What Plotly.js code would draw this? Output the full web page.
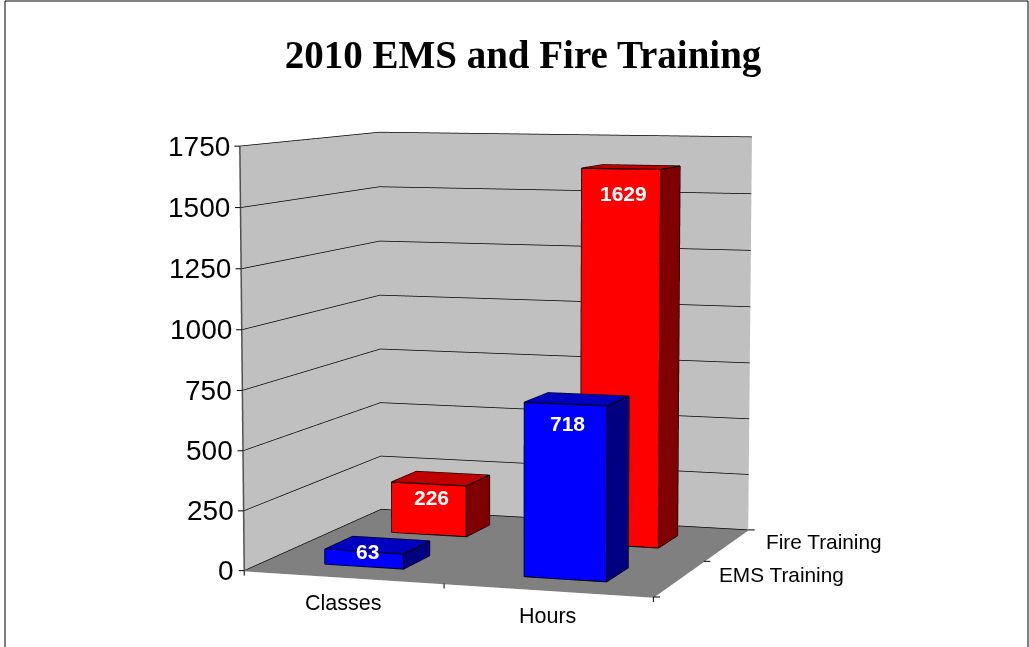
<!DOCTYPE html>
<html><head><meta charset="utf-8">
<script src="https://cdn.plot.ly/plotly-3.0.1.min.js"></script>
<style>html,body{margin:0;padding:0;background:#fff;overflow:hidden;width:1029px;height:647px}</style></head>
<body><div id="chart" style="position:absolute"></div>
<script>
const categories = ['Classes','Hours'];
const seriesNames = ['EMS Training','Fire Training'];
const emsValues = [63,718];
const fireValues = [226,1629];
const zTicks = [0,250,500,750,1000,1250,1500,1750];
const floorTicks = [-0.5,0.5,1.5];
const blueFaces = {front:'#0000ff',top:'#0000c0',side:'#000080'};
const redFaces = {front:'#ff0000',top:'#c00000',side:'#800000'};
const barHalf = 0.2;
const sans = 'Liberation Sans, Arial, sans-serif';
// The 3D scene is laid out larger than the window so the camera can stand far back
const W=3000,H=2380,centerX=506,centerY=347;
const offX=centerX-W/2,offY=centerY-H/2;
const chart=document.getElementById('chart');
chart.style.left=offX+'px';chart.style.top=offY+'px';chart.style.width=W+'px';chart.style.height=H+'px';
const px=v=>(v-offX)/W, py=v=>1-(v-offY)/H;

function box(cx, cy, h, faces){
  const x0=cx-barHalf,x1=cx+barHalf,y0=cy-barHalf,y1=cy+barHalf;
  const fc=[faces.front,faces.front,faces.top,faces.top,faces.front,faces.front,faces.side,faces.side,faces.top,faces.top,faces.side,faces.side];
  return {type:'mesh3d',
    x:[x0,x1,x1,x0,x0,x1,x1,x0],
    y:[y0,y0,y1,y1,y0,y0,y1,y1],
    z:[0,0,0,0,h,h,h,h],
    i:[0,0,4,4,0,0,1,1,2,2,3,3],
    j:[1,2,5,6,1,5,2,6,3,7,0,4],
    k:[2,3,6,7,5,4,6,5,7,6,4,7],
    facecolor:fc,flatshading:true,
    lighting:{ambient:1,diffuse:0,specular:0,roughness:1,fresnel:0},
    hoverinfo:'skip',showscale:false};
}
function edges(cx, cy, h){
  const x0=cx-barHalf,x1=cx+barHalf,y0=cy-barHalf,y1=cy+barHalf;
  const xs=[x0,x1,x1,x0,x0,x0,x1,x1,x0,x0,null,x1,x1,null,x1,x1,null,x0,x0];
  const ys=[y0,y0,y1,y1,y0,y0,y0,y1,y1,y0,null,y0,y0,null,y1,y1,null,y1,y1];
  const zs=[0,0,0,0,0,h,h,h,h,h,null,0,h,null,0,h,null,0,h];
  return {type:'scatter3d',mode:'lines',x:xs,y:ys,z:zs,line:{color:'#000',width:2.5},hoverinfo:'skip',showlegend:false,connectgaps:false};
}
const traces=[];
categories.forEach((c,i)=>{
  traces.push(box(i,1,fireValues[i],redFaces));
  traces.push(edges(i,1,fireValues[i]));
  traces.push(box(i,0,emsValues[i],blueFaces));
  traces.push(edges(i,0,emsValues[i]));
});
const annotations=[];
function note(x,y,z,text,font,extra){annotations.push(Object.assign({x,y,z,text,showarrow:false,font},extra||{}));}
function tick(x,y,z,ax,ay){annotations.push({x,y,z,text:' ',showarrow:true,arrowhead:0,arrowwidth:1,arrowcolor:'#000',standoff:0,ax,ay,font:{size:1}});}
const labelFont={family:sans,size:21,color:'#fff'};
const emsShift=[{xshift:4,yshift:0},{xshift:2,yshift:-19}];
const fireShift=[{xshift:3,yshift:-14},{xshift:2,yshift:-25}];
categories.forEach((c,i)=>{
  note(i,-barHalf,emsValues[i],'<b>'+emsValues[i]+'</b>',labelFont,emsShift[i]);
  note(i,1-barHalf,fireValues[i],'<b>'+fireValues[i]+'</b>',labelFont,fireShift[i]);
  note(i,-0.5,0,c,{family:sans,size:21.5,color:'#000'},{yshift:-26});
});
seriesNames.forEach((s,i)=>note(1.5,i,0,s,{family:sans,size:20.8,color:'#000'},{xanchor:'left',xshift:37,yshift:4}));
zTicks.forEach(t=>{
  note(-0.5,-0.5,Math.min(t,1749.5),String(t),{family:sans,size:28,color:'#000'},{xanchor:'right',xshift:-8});
  tick(-0.5,-0.5,Math.min(t,1749.5),-7,0);
});
floorTicks.forEach(v=>{
  tick(Math.min(v,1.499),-0.5,0,0,7);
  tick(1.5,Math.min(v,1.499),0,8,0);
});
const axisBase={showspikes:false,showline:true,linecolor:'#808080',linewidth:3,zeroline:false,showbackground:true,showticklabels:false,title:{text:''},ticks:''};
const layout={
  width:W,height:H,margin:{l:0,r:0,t:0,b:0},paper_bgcolor:'#fff',showlegend:false,
  title:{text:'<b>2010 EMS and Fire Training</b>',x:px(523),xanchor:'center',y:py(54),yanchor:'middle',font:{family:'Liberation Serif',size:39,color:'#000'}},
  shapes:[{type:'rect',xref:'paper',yref:'paper',x0:px(5),x1:px(1028),y0:py(700),y1:py(1),line:{color:'#000',width:1},fillcolor:'rgba(0,0,0,0)'}],
  scene:{
    domain:{x:[0,1],y:[0,1]},
    aspectmode:'manual',aspectratio:{x:1,y:0.91,z:1},
    dragmode:false,
    camera:{eye:{x:2.18,y:-6.6,z:0.78},center:{x:0,y:0,z:0},up:{x:0,y:0,z:1},projection:{type:'perspective'}},
    xaxis:Object.assign({},axisBase,{range:[-0.5,1.5],tickvals:floorTicks,backgroundcolor:'#c0c0c0',showgrid:false}),
    yaxis:Object.assign({},axisBase,{range:[-0.5,1.5],tickvals:floorTicks,backgroundcolor:'#c0c0c0',showgrid:false}),
    zaxis:Object.assign({},axisBase,{range:[0,1750],tickvals:zTicks,backgroundcolor:'#808080',gridcolor:'#000',showgrid:true,gridwidth:1.5,linecolor:'#505050'}),
    annotations:annotations
  }
};
Plotly.newPlot('chart',traces,layout,{displayModeBar:false});
</script></body></html>
